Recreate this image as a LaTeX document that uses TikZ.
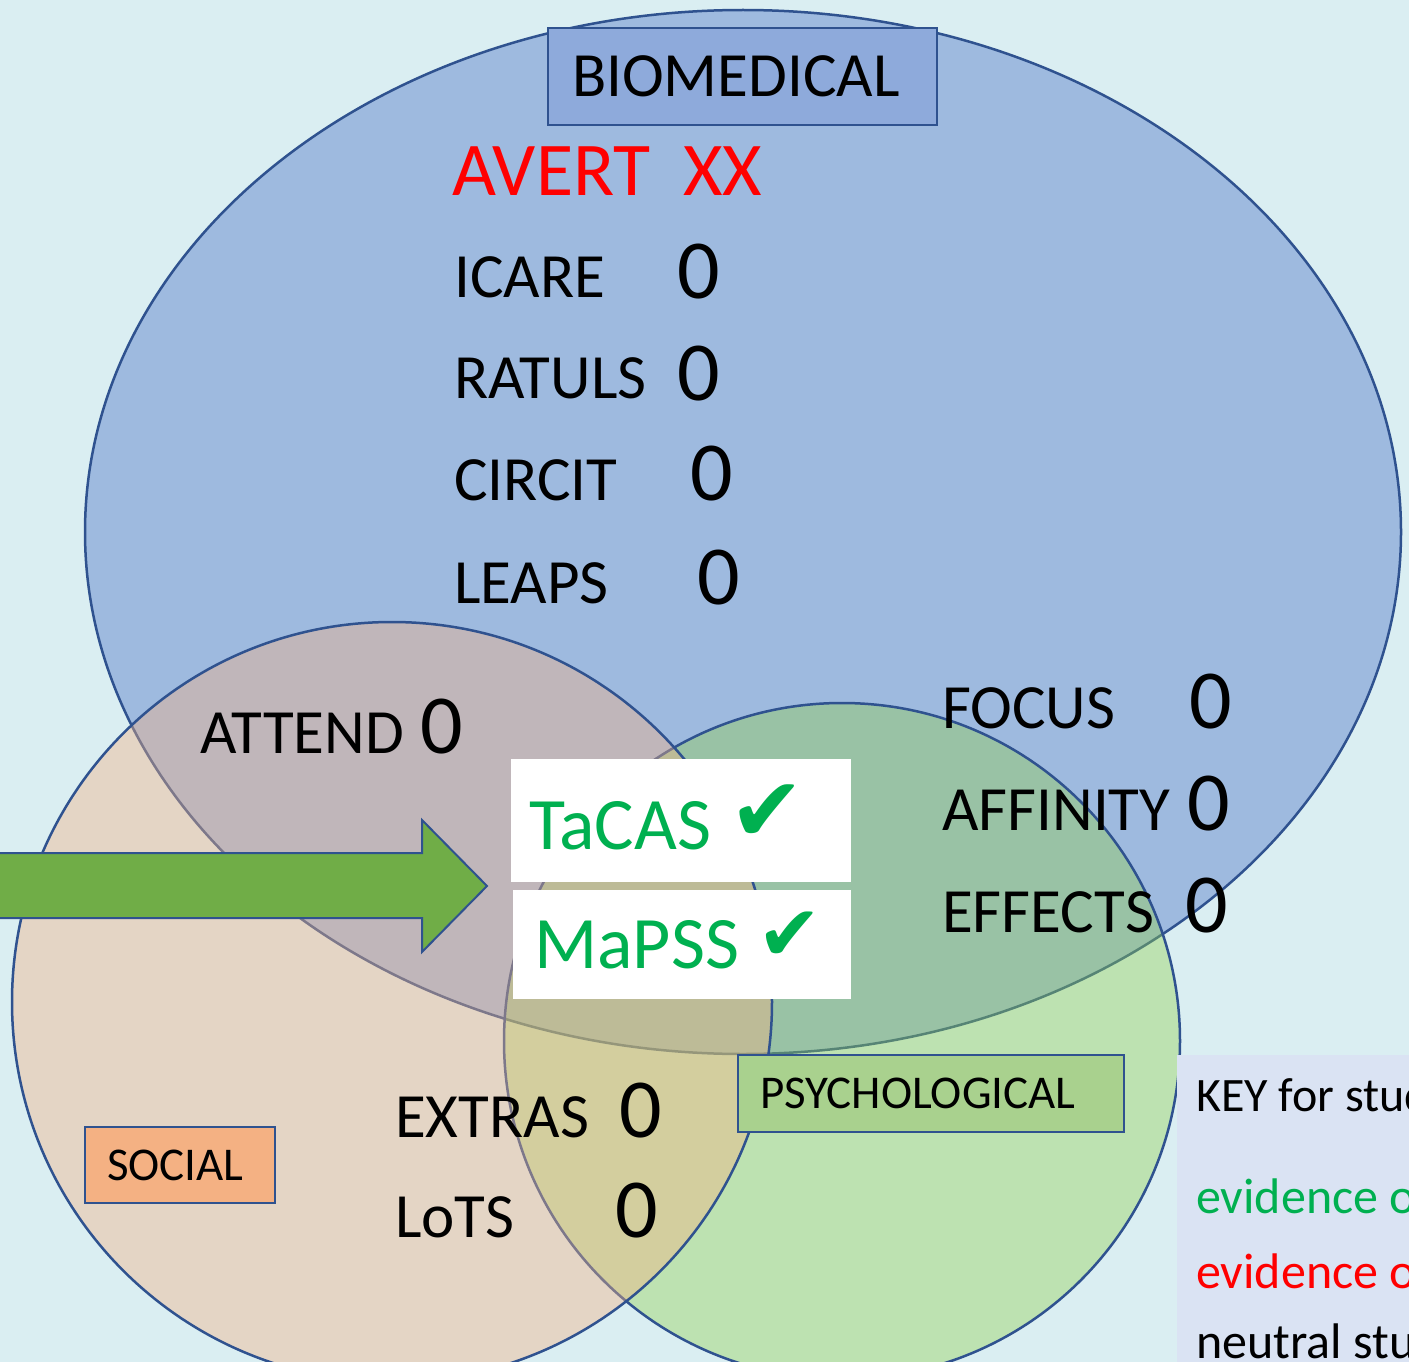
\documentclass[tikz,border=0pt]{standalone}
\usepackage{fontspec}
\setmainfont{Carlito}
\newfontfamily\symfont{DejaVu Sans}
\definecolor{bgc}{RGB}{218,238,242}
\definecolor{bioc}{RGB}{158,186,223}
\definecolor{edgec}{RGB}{47,82,143}
\definecolor{socc}{RGB}{244,177,131}
\definecolor{psyc}{RGB}{146,208,80}
\definecolor{arrowc}{RGB}{112,173,71}
\definecolor{bioboxc}{RGB}{142,170,219}
\definecolor{psyboxc}{RGB}{169,209,142}
\definecolor{keyc}{RGB}{218,227,243}
\definecolor{okgreen}{RGB}{0,176,80}
\definecolor{badred}{RGB}{255,0,0}
\tikzset{
  setedge/.style={draw=edgec, line width=2.5pt},
  tagbox/.style={draw=edgec, line width=1.5pt, inner ysep=0pt, align=left, font=\fontsize{47}{50}\selectfont},
  lbl/.style={anchor=base west, inner sep=0pt, font=\fontsize{63}{70}\selectfont},
  zero/.style={anchor=base west, inner sep=0pt, font=\fontsize{84}{90}\selectfont},
  keytxt/.style={anchor=base west, inner sep=0pt, font=\fontsize{50}{55}\selectfont},
  whitebox/.style={fill=white, draw=none, inner sep=0pt, anchor=north west},
  chk/.style={anchor=base west, inner sep=0pt, text=okgreen, font=\fontsize{74}{80}\selectfont}
}
\begin{document}
\begin{tikzpicture}[x=1pt,y=-1pt]
\useasboundingbox (0,0) rectangle (1409,1362);
\clip (0,0) rectangle (1409,1362);
\fill[bgc] (0,0) rectangle (1409,1362);

% set shapes
\coordinate (bioC) at (743,532);
\coordinate (psyC) at (842,1041);
\coordinate (socC) at (392,1002);
\draw[setedge, fill=bioc] (bioC) ellipse [x radius=658pt, y radius=522pt];
\draw[setedge, fill=psyc, fill opacity=0.4] (psyC) circle [radius=338pt];
\draw[setedge, fill=socc, fill opacity=0.4] (socC) circle [radius=380pt];

% set name tags
\node[tagbox, fill=bioboxc, minimum height=97pt, text width=341pt, inner xsep=24pt,
      font=\fontsize{63}{70}\selectfont] (bio) at (742.5,76.5) {BIOMEDICAL};
\node[tagbox, fill=psyboxc, minimum height=77pt, text width=342pt, inner xsep=22pt] (psy) at (931,1093.5) {PSYCHOLOGICAL};
\node[tagbox, fill=socc, minimum height=76pt, text width=146pt, inner xsep=22pt] (soc) at (180,1165) {SOCIAL};

% arrow
\draw[draw=edgec, line width=2pt, fill=arrowc, line join=miter]
  (-20,853) -- (422,853) -- (422,820) -- (487,886) -- (422,952) -- (422,918) -- (-20,918) -- cycle;

% white boxes
\node[whitebox, minimum width=340pt, minimum height=123pt] (wb1) at (511,759) {};
\node[whitebox, minimum width=338pt, minimum height=109pt] (wb2) at (513,890) {};
\node[chk] (tacas) at (529,849) {TaCAS\hspace{18pt}\raisebox{8pt}{\symfont\fontsize{90}{90}\selectfont ✔}};
\node[chk] (mapss) at (534,968) {MaPSS\hspace{18pt}\raisebox{8pt}{\symfont\fontsize{77}{77}\selectfont ✔}};

% biomedical studies
\node[lbl, text=badred, font=\fontsize{76}{80}\selectfont] (avert) at (452,196) {AVERT};
\node[lbl, text=badred, font=\fontsize{76}{80}\selectfont] (avertx) at (683,196) {XX};
\node[lbl] (icare) at (454,297) {ICARE};
\node[zero] (icare0) at (677,298) {0};
\node[lbl] (ratuls) at (454,398) {RATULS};
\node[zero] (ratuls0) at (677,400) {0};
\node[lbl] (circit) at (454,500) {CIRCIT};
\node[zero] (circit0) at (690,500) {0};
\node[lbl] (leaps) at (454,603) {LEAPS};
\node[zero] (leaps0) at (697,604) {0};

% overlaps
\node[lbl] (attend) at (200,753) {ATTEND};
\node[zero] (attend0) at (420,753) {0};
\node[lbl] (focus) at (942,728) {FOCUS};
\node[zero] (focus0) at (1189,728) {0};
\node[lbl] (affinity) at (942,830) {AFFINITY};
\node[zero] (affinity0) at (1187,830) {0};
\node[lbl] (effects) at (942,932) {EFFECTS};
\node[zero] (effects0) at (1185,932) {0};
\node[lbl] (extras) at (395,1137) {EXTRAS};
\node[zero] (extras0) at (619,1137) {0};
\node[lbl] (lots) at (395,1237) {LoTS};
\node[zero] (lots0) at (615,1237) {0};

% key
\node[fill=keyc, draw=none, inner sep=0pt, anchor=north west, minimum width=260pt, minimum height=330pt] (key) at (1177,1055) {};
\node[keytxt, font=\fontsize{48}{52}\selectfont] (keyhead) at (1196,1111) {KEY for stud};
\node[keytxt, text=okgreen] (keypos) at (1196,1213) {evidence o};
\node[keytxt, text=badred] (keyneg) at (1196,1288) {evidence o};
\node[keytxt] (keyneu) at (1196,1358) {neutral stu};
\end{tikzpicture}
\end{document}
